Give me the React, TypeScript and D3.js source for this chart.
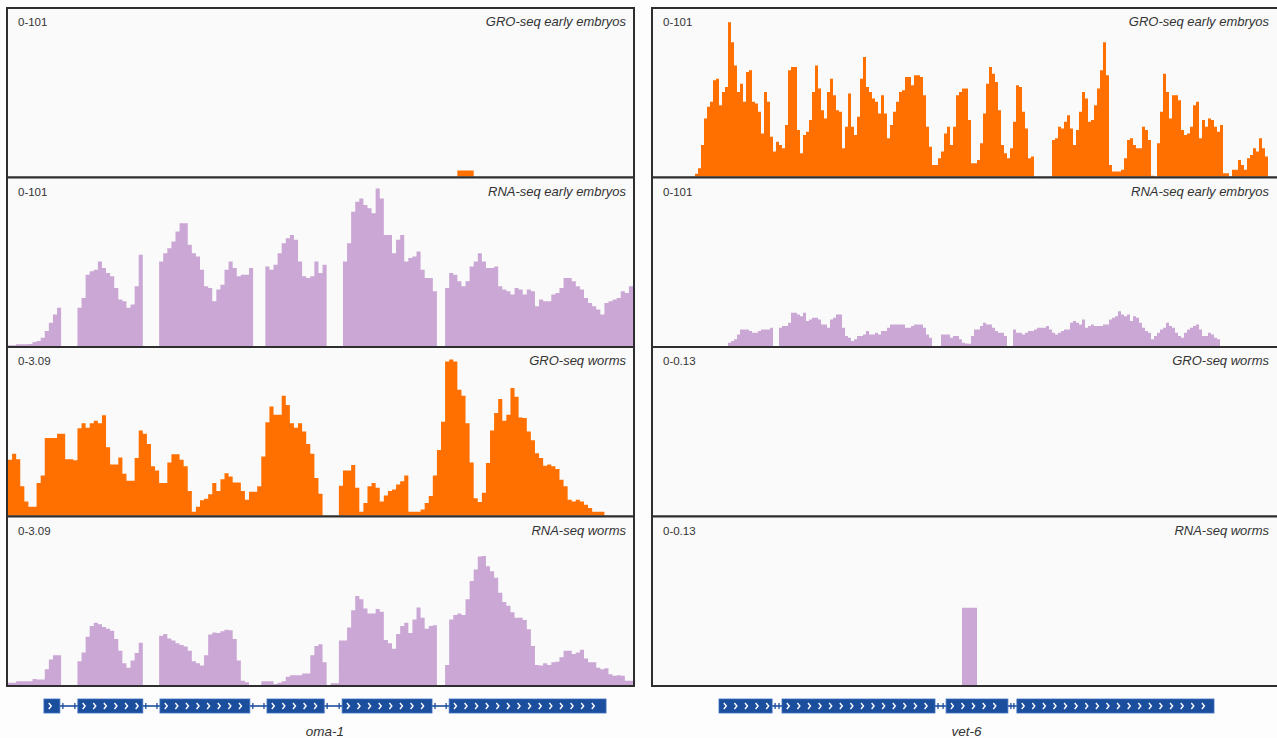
import React from 'react';
import * as d3 from 'd3';

// ---- data (bin values read off the browser tracks) ----
// left locus: oma-1, 153 bins; right locus: vet-6, 209 bins

const leftBins = 153;
const rightBins = 209;

const leftGroEmbryoHits: [number, number][] = [[110, 3.6], [111, 3.6], [112, 3.6], [113, 3.6]];

const leftRnaEmbryo = [
  0.5, 0.5, 1, 1, 1, 1.2, 2.4, 3, 5, 9, 14, 19, 23,
  0, 0, 0, 0,
  23, 29, 43, 45, 46, 51, 47, 44, 42, 35, 28, 27, 23, 25, 36, 55,
  0, 0, 0, 0,
  51, 56, 59, 63, 69, 74, 74, 61, 56, 54, 46, 36, 35, 27, 34, 37, 46, 51, 47, 42, 43, 43, 47,
  0, 0, 0,
  48, 46, 49, 56, 62, 65, 67, 64, 51, 42, 41, 42, 51, 44, 49,
  0, 0, 0, 0,
  51, 62, 81, 87, 89, 85, 83, 80, 95, 89, 67, 67, 56, 64, 67, 51, 53, 54, 57, 46, 41, 41, 33,
  0, 0,
  35, 44, 43, 39, 36, 39, 48, 51, 56, 51, 47, 47, 48, 36, 34, 33, 31, 35, 34, 31,
  34, 33, 24, 28, 27, 27, 31, 32, 35, 41, 41, 39, 36, 34, 29, 26, 24, 22, 19, 26,
  27, 28, 29, 33, 32, 36
];

const leftGroWorm = [
  1.03, 1.14, 1.04, 0.54, 0.26, 0.16, 0.16, 0.6, 0.74, 1.43, 1.43, 1.43, 1.51,
  1.51, 1.04, 1.04, 1.02,
  1.61, 1.70, 1.62, 1.70, 1.75, 1.70, 1.85,
  1.26, 0.94, 0.94, 1.07, 0.77, 0.64, 0.64, 1.06, 1.57,
  1.51, 1.32, 0.91, 0.83, 0.60, 0.60, 0.98, 1.13, 1.13, 1.03, 0.91,
  0.45, 0.07, 0.16, 0.28, 0.31, 0.39, 0.60, 0.45, 0.67, 0.78, 0.72, 0.61, 0.61, 0.45, 0.29, 0.44, 0.44, 0.54,
  1.09, 1.72, 2.01, 1.86, 1.86, 2.21, 2.04, 1.70, 1.62, 1.70, 1.55, 1.32, 1.14, 0.69, 0.40,
  0, 0, 0, 0,
  0.55, 0.83, 0.83, 0.93, 0.51, 0.07, 0.23, 0.54, 0.60, 0.51, 0.26, 0.37, 0.45, 0.48, 0.57, 0.63, 0.74,
  0.07, 0.07, 0.07, 0.11, 0.23, 0.36, 0.74, 1.21, 1.73,
  2.84, 2.88, 2.84, 2.32, 2.21, 1.70, 0.98, 0.32, 0.25, 0.42, 0.97, 1.57, 1.89, 2.15, 1.75, 1.86, 2.35, 2.19,
  1.81, 1.80, 1.55, 1.39, 1.15, 1.06, 0.92, 0.94, 0.91, 0.86, 0.66, 0.54, 0.29, 0.26, 0.29, 0.26, 0.20, 0.14,
  0.07, 0.07, 0.07,
  0, 0, 0, 0, 0, 0, 0
];

const leftRnaWorm = [
  0.04, 0.04, 0.07, 0.07, 0.07, 0.07, 0.11, 0.10, 0.10, 0.29, 0.47, 0.55, 0.55,
  0, 0, 0, 0,
  0.44, 0.60, 0.89, 1.09, 1.15, 1.12, 1.07, 1.04, 1.0, 0.85, 0.63, 0.40, 0.32, 0.45, 0.59, 0.78,
  0, 0, 0, 0,
  0.91, 0.94, 0.86, 0.82, 0.77, 0.74, 0.71, 0.63, 0.44, 0.40, 0.36, 0.55, 0.93, 0.97, 0.96, 0.99, 1.02, 1.01,
  0.85, 0.45, 0.08, 0.05,
  0, 0, 0,
  0.07, 0.07, 0.07, 0.02, 0.04, 0.07, 0.15, 0.18, 0.18, 0.18, 0.21, 0.21, 0.55, 0.72, 0.75, 0.42,
  0, 0.03, 0.03,
  0.82, 0.82, 1.06, 1.38, 1.64, 1.58, 1.41, 1.32, 1.32, 1.40, 1.35, 0.83, 0.77, 0.67, 0.94, 1.09, 1.15, 0.96,
  1.21, 1.43, 1.24, 1.04, 1.09, 1.10,
  0, 0,
  0.37, 1.21, 1.29, 1.32, 1.29, 1.58, 1.92, 2.13, 2.37, 2.38, 2.19, 2.10, 1.98, 1.70, 1.53, 1.46, 1.34, 1.24,
  1.24, 1.20, 1.03, 0.72, 0.37, 0.36, 0.40, 0.37, 0.42, 0.43, 0.51, 0.63, 0.63, 0.57, 0.60, 0.65, 0.49, 0.42,
  0.42, 0.32, 0.29, 0.31, 0.20, 0.17, 0.18, 0.17, 0.08, 0.08
];

const rightGroEmbryo = [
  0, 0, 0, 0, 0, 0, 0, 0, 0, 0, 0, 0, 0, 0,
  1.6, 5, 19, 35, 42, 45, 58, 59, 43, 51,
  54, 93, 81, 67, 51, 56, 45, 63, 64, 45,
  44, 39, 26, 51, 45, 24, 15, 21, 19, 17,
  31, 64, 66, 66, 28, 14, 25, 27, 34, 51,
  67, 53, 40, 35, 51, 59, 49, 40, 39, 17,
  30, 50, 30, 25, 36, 59, 72, 54, 51, 47,
  45, 38, 49, 38, 23, 31, 39, 45, 51, 52,
  60, 60, 55, 61, 61, 60, 49, 30, 18, 7,
  7, 11, 15, 26, 30, 19, 30, 49, 51, 53,
  53, 34, 8, 8, 10, 20, 38, 56, 66, 62,
  57, 40, 19, 14, 11, 17, 33, 55, 54, 39,
  29, 11, 12, 0, 0, 0, 0, 0, 0, 22,
  23, 30, 29, 33, 37, 29, 19, 28, 39, 51,
  47, 33, 34, 43, 53, 64, 81, 61, 7, 3,
  3, 3, 4, 11, 22, 23, 19, 17, 17, 30,
  28, 22, 0.4, 0, 20, 39, 62, 51, 35, 49,
  49, 46, 28, 25, 26, 30, 43, 45, 23, 34,
  30, 35, 34, 30, 27, 31, 2, 2, 0, 4,
  4, 10, 7, 4, 11, 13, 17, 15, 23, 17, 12,
  0, 0, 0, 0
];

const rightRnaEmbryo = [
  0, 0, 0, 0, 0, 0, 0, 0, 0, 0, 0, 0, 0, 0, 0, 0, 0, 0, 0, 0, 0, 0, 0, 0, 0,
  2, 3, 4, 7, 10, 10, 10, 9, 8, 8, 9, 10, 10, 10, 11,
  0, 0,
  11, 12, 12, 14, 20, 20, 19, 18, 20, 15, 16, 17, 17, 16, 13, 13, 11, 16, 17, 19,
  19, 11, 6, 5, 3, 4, 6, 6, 7, 9, 7, 7, 8, 7, 9, 9, 11, 13, 13, 13,
  13, 13, 11, 11, 12, 13, 13, 13, 11, 7, 5,
  0, 0, 0,
  7, 7, 7, 5, 6, 6, 4, 2, 1.5, 1.4, 6, 10, 10, 12, 14, 13, 13, 11, 9, 8, 8, 6,
  0, 0,
  10, 8, 8, 7, 8, 9, 9, 10, 11, 11, 11, 12, 10, 8, 7, 8, 9, 10, 10, 14,
  15, 14, 13, 16, 11, 12, 13, 12, 12, 12, 13, 13, 16, 17, 18, 21, 19, 18, 19, 15,
  18, 17, 14, 11, 9, 8, 4, 6, 8, 10, 11, 14, 12, 11, 8, 6, 5, 8, 10, 11,
  12, 13, 10, 6, 6, 8, 7, 5, 4,
  0, 0, 0, 0, 0, 0, 0, 0, 0, 0, 0, 0, 0, 0, 0, 0, 0, 0, 0, 0
];

const rightGroWormHits: [number, number][] = [];
const rightRnaWormHits: [number, number][] = [[103, 0.06], [104, 0.06], [105, 0.06], [106, 0.06], [107, 0.06]];

// exon spans in bin coordinates
const leftExons: [number, number][] = [[8.8, 12.7], [17.1, 33.0], [37.2, 59.2], [63.4, 77.4], [81.8, 103.8], [108.0, 146.4]];
const rightExons: [number, number][] = [[22, 39.7], [43, 94], [97.7, 118.3], [121.3, 187]];

const trackNames = ['GRO-seq early embryos', 'RNA-seq early embryos', 'GRO-seq worms', 'RNA-seq worms'];
const leftRanges = [101, 101, 3.09, 3.09];
const rightRanges = [101, 101, 0.13, 0.13];
const rangeLabels = (m: number) => `0-${m}`;
const geneNames = ['oma-1', 'vet-6'];

const ORANGE = '#ff7000';
const PURPLE = '#caa7d4';
const BLUE = '#1c4e9e';
const trackColors = [ORANGE, PURPLE, ORANGE, PURPLE];

const fromHits = (hits: [number, number][], n: number) => {
  const arr = new Array(n).fill(0);
  hits.forEach(([i, v]) => { arr[i] = v; });
  return arr;
};

const W = 1277;
const H = 738;
const TOP = 8;
const ROW_H = 169.5;
const FONT = '"Liberation Sans", Arial, sans-serif';

interface Column {
  x0: number;
  x1: number;
  bins: number;
  tracks: number[][];
  ranges: number[];
  exons: [number, number][];
  gene: string;
}

const columns: Column[] = [
  {
    x0: 7, x1: 634, bins: leftBins,
    tracks: [fromHits(leftGroEmbryoHits, leftBins), leftRnaEmbryo, leftGroWorm, leftRnaWorm],
    ranges: leftRanges, exons: leftExons, gene: geneNames[0]
  },
  {
    x0: 652, x1: 1281, bins: rightBins,
    tracks: [rightGroEmbryo, rightRnaEmbryo, fromHits(rightGroWormHits, rightBins), fromHits(rightRnaWormHits, rightBins)],
    ranges: rightRanges, exons: rightExons, gene: geneNames[1]
  }
];

const Track: React.FC<{ col: Column; row: number }> = ({ col, row }) => {
  const top = TOP + row * ROW_H;
  const bottom = top + ROW_H;
  const x = d3.scaleLinear().domain([0, col.bins]).range([col.x0 + 1, col.x1 - 1]);
  const y = d3.scaleLinear().domain([0, col.ranges[row]]).range([bottom - 1, top + 1]);
  const vals = col.tracks[row];
  const pts = [...vals, vals[vals.length - 1]];
  const area = d3.area<number>()
    .x((_, i) => x(i))
    .y0(y(0))
    .y1(d => y(d))
    .curve(d3.curveStepAfter);
  return (
    <g>
      <rect x={col.x0} y={top} width={col.x1 - col.x0} height={ROW_H} fill="#fafafa" />
      <path d={area(pts) || ''} fill={trackColors[row]} />
      <rect x={col.x0} y={top} width={col.x1 - col.x0} height={ROW_H} fill="none" stroke="#2e2e2e" strokeWidth={2} />
      <text x={col.x0 + 11} y={top + 18} fontSize={11.5} fontFamily={FONT} fill="#333">
        {rangeLabels(col.ranges[row])}
      </text>
      <text x={Math.min(col.x1, W) - 8} y={top + 18} fontSize={13} fontStyle="italic" fontFamily={FONT}
        fill="#333" textAnchor="end">
        {trackNames[row]}
      </text>
    </g>
  );
};

const Gene: React.FC<{ col: Column }> = ({ col }) => {
  const x = d3.scaleLinear().domain([0, col.bins]).range([col.x0 + 1, col.x1 - 1]);
  const yMid = 706;
  const exH = 14;
  const introns = col.exons.slice(1).map((e, i) => [col.exons[i][1], e[0]]);
  const start = x(col.exons[0][0]);
  const end = x(col.exons[col.exons.length - 1][1]);
  return (
    <g>
      {introns.map(([a, b], i) => {
        const xa = x(a), xb = x(b);
        return (
          <g key={`i${i}`}>
            <line x1={xa} x2={xb} y1={yMid} y2={yMid} stroke={BLUE} strokeWidth={1.6} />
            <line x1={xa + 3} x2={xa + 3} y1={yMid - 3} y2={yMid + 3} stroke={BLUE} strokeWidth={1.3} />
            <line x1={xb - 3} x2={xb - 3} y1={yMid - 3} y2={yMid + 3} stroke={BLUE} strokeWidth={1.3} />
          </g>
        );
      })}
      {col.exons.map(([a, b], i) => {
        const xa = x(a), xb = x(b);
        const marks = d3.range(xa + 6, xb - 3, 10.6);
        return (
          <g key={`e${i}`}>
            <rect x={xa} y={yMid - exH / 2} width={xb - xa} height={exH} fill={BLUE} stroke="#3d6fc0" strokeWidth={0.8} />
            {marks.map((m, j) => (
              <path key={j} d={`M${m - 1.2},${yMid - 3} L${m + 1.3},${yMid} L${m - 1.2},${yMid + 3}`}
                fill="none" stroke="#fff" strokeWidth={1.4} />
            ))}
          </g>
        );
      })}
      <text x={(start + end) / 2} y={736} fontSize={13.5} fontStyle="italic" fontFamily={FONT}
        fill="#333" textAnchor="middle">
        {col.gene}
      </text>
    </g>
  );
};

const App: React.FC = () => {
  return (
    <div style={{ position: 'absolute', left: 0, top: 0 }}>
      <svg width={W} height={H} viewBox={`0 0 ${W} ${H}`} style={{ display: 'block' }}>
        <rect x={0} y={0} width={W} height={H} fill="#fdfdfd" />
        {columns.map((col, ci) => (
          <g key={ci}>
            {trackNames.map((_, ri) => <Track key={ri} col={col} row={ri} />)}
            <Gene col={col} />
          </g>
        ))}
      </svg>
    </div>
  );
};

export default App;
